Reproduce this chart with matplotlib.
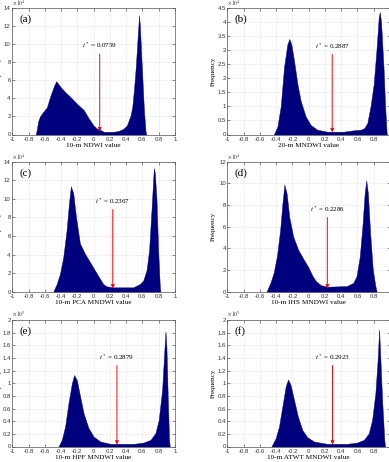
import matplotlib
matplotlib.use("Agg")
import matplotlib.pyplot as plt

plt.rcParams['mathtext.fontset'] = 'stix'

# histogram outlines (x = index value, y = frequency / scale)
x_a = [-0.711, -0.70, -0.68, -0.66, -0.62, -0.575, -0.534, -0.49, -0.46, -0.41, -0.35, -0.29, -0.204,
       -0.12, -0.06, 0.0, 0.04, 0.085, 0.126, 0.25, 0.31, 0.37, 0.41, 0.455, 0.476, 0.497, 0.52,
       0.54, 0.56, 0.571, 0.588, 0.60, 0.62, 0.64, 0.65]
y_a = [0, 0.5, 1.5, 2.0, 2.5, 3.0, 4.2, 5.3, 5.9, 5.3, 4.7, 4.2, 3.4,
       2.7, 1.8, 1.0, 0.65, 0.5, 0.3, 0.3, 0.4, 0.65, 1.0, 2.1, 3.0, 4.9, 7.5,
       10.4, 13.2, 11.9, 8.6, 6.4, 2.7, 0.3, 0]

x_b = [-0.43, -0.386, -0.345, -0.304, -0.264, -0.239, -0.214, -0.18, -0.14, -0.10, -0.038, 0.023,
       0.105, 0.228, 0.43, 0.555, 0.64, 0.68, 0.72, 0.76, 0.80, 0.833, 0.862, 0.874, 0.89, 0.92,
       0.94, 0.96]
y_b = [0, 0.28, 1.0, 2.4, 3.2, 3.4, 3.2, 2.6, 1.8, 1.2, 0.64, 0.34,
       0.17, 0.1, 0.1, 0.15, 0.17, 0.22, 0.4, 1.0, 1.8, 3.0, 4.2, 4.35, 4.0, 2.4,
       1.0, 0]

x_c = [-0.496, -0.455, -0.414, -0.373, -0.332, -0.303, -0.279, -0.25, -0.217, -0.168, -0.107,
       -0.045, 0.016, 0.078, 0.119, 0.16, 0.242, 0.488, 0.57, 0.611, 0.652, 0.684, 0.713, 0.742,
       0.754, 0.775, 0.795, 0.816, 0.824]
y_c = [0, 0.8, 1.9, 3.7, 6.6, 9.5, 11.35, 10.6, 8.1, 5.2, 4.1,
       3.2, 2.3, 1.4, 0.83, 0.58, 0.47, 0.47, 0.83, 1.2, 2.3, 4.5, 8.8, 13.3,
       12.8, 9.9, 4.5, 0.47, 0]

x_d = [-0.52, -0.472, -0.432, -0.392, -0.352, -0.324, -0.30, -0.272, -0.24, -0.192, -0.132,
       -0.072, -0.012, 0.048, 0.088, 0.148, 0.228, 0.468, 0.548, 0.588, 0.628, 0.66, 0.688,
       0.708, 0.728, 0.756, 0.788, 0.82, 0.836]
y_d = [0, 0.82, 1.74, 3.26, 5.7, 8.14, 9.88, 9.05, 6.9, 5.1, 3.9,
       3.1, 2.35, 1.43, 0.98, 0.61, 0.46, 0.52, 0.82, 1.43, 3.26, 6.0, 9.05,
       10.27, 9.05, 5.4, 2.04, 0.52, 0]

x_e = [-0.432, -0.391, -0.35, -0.309, -0.267, -0.239, -0.206, -0.165, -0.123, -0.062, 0.0,
       0.082, 0.206, 0.494, 0.617, 0.70, 0.761, 0.802, 0.844, 0.872, 0.885, 0.897, 0.914,
       0.93, 0.938]
y_e = [0, 0.105, 0.316, 0.684, 1.0, 1.13, 1.05, 0.79, 0.526, 0.29, 0.158,
       0.079, 0.042, 0.042, 0.063, 0.105, 0.21, 0.42, 0.895, 1.53, 1.82, 1.58, 0.74,
       0.1, 0]

x_f = [-0.46, -0.407, -0.366, -0.325, -0.284, -0.255, -0.223, -0.182, -0.133, -0.079, -0.018,
       0.064, 0.227, 0.473, 0.596, 0.678, 0.739, 0.78, 0.82, 0.85, 0.866, 0.882, 0.903,
       0.93, 0.94]
y_f = [0, 0.13, 0.316, 0.63, 0.95, 1.06, 0.97, 0.74, 0.47, 0.26, 0.147,
       0.079, 0.042, 0.042, 0.063, 0.105, 0.21, 0.42, 0.84, 1.42, 1.85, 1.37, 0.74,
       0.1, 0]

labels = ['(a)', '(b)', '(c)', '(d)', '(e)', '(f)']
xlabels = ['10-m NDWI value', '20-m MNDWI value', '10-m PCA MNDWI value',
           '10-m IHS MNDWI value', '10-m HPF MNDWI value', '10-m ATWT MNDWI value']
thresholds = [0.0759, 0.2887, 0.2367, 0.2286, 0.2879, 0.2923]
exponents = [4, 4, 4, 4, 5, 5]
ymaxes = [14, 4.5, 14, 12, 2, 2]
ysteps = [2, 0.5, 2, 2, 0.2, 0.2]
text_y = [9.3, 2.96, 9.25, 7.2, 1.34, 1.34]
arrow_top = [8.9, 2.85, 8.85, 6.85, 1.28, 1.28]
arrow_bot = [0.35, 0.08, 0.35, 0.3, 0.03, 0.03]
xs = [x_a, x_b, x_c, x_d, x_e, x_f]
ys = [y_a, y_b, y_c, y_d, y_e, y_f]

W, H = 389, 462
fig = plt.figure(figsize=(W / 100, H / 100), dpi=100)

# axes boxes in pixels: left, top, width, height
lefts = [12.3, 227.5]
ylabel_x = [-0.062, -0.07]
rows = [(8.0, 126.5), (161.7, 130), (320, 126.5)]

navy = '#00007f'
serif = 'Liberation Serif'
sans = 'Liberation Sans'
xtl = ['-1', '-0.8', '-0.6', '-0.4', '-0.2', '0', '0.2', '0.4', '0.6', '0.8', '1']

for i in range(6):
    r, c = divmod(i, 2)
    top, h = rows[r]
    left = lefts[c]
    ax = fig.add_axes([left / W, 1 - (top + h) / H, 162.5 / W, h / H])
    ax.fill_between(xs[i], ys[i], 0, color=navy, linewidth=0.3, edgecolor=navy)
    ax.set_xlim(-1, 1)
    ax.set_ylim(0, ymaxes[i])
    ax.set_xticks([round(-1 + 0.2 * k, 1) for k in range(11)])
    # the right column runs past the picture edge, so its "1" is not seen
    ax.set_xticklabels(xtl if c == 0 else xtl[:-1] + [''], family=sans)
    nt = int(round(ymaxes[i] / ysteps[i]))
    yt = [round(ysteps[i] * k, 2) for k in range(nt + 1)]
    ax.set_yticks(yt)
    ax.set_yticklabels(['%g' % v for v in yt], family=sans)
    ax.tick_params(direction='in', length=2, width=0.4, labelsize=4.3, pad=1.2,
                   top=True, right=True, colors='#333333')
    ax.tick_params(axis='x', pad=1.8)
    ax.grid(True, color='#d0d0d0', linestyle=':', linewidth=0.5)
    ax.set_axisbelow(True)
    for s in ax.spines.values():
        s.set_linewidth(0.5)
        s.set_color('#555555')
    ax.set_xlabel(xlabels[i], fontsize=5.2, family=serif, labelpad=0.8)
    ax.set_ylabel('Frequency', fontsize=5, family=serif)
    ax.yaxis.set_label_coords(ylabel_x[c], 0.5)
    ax.text(0.0, 1.004, r'$\times\,10^{%d}$' % exponents[i], transform=ax.transAxes,
            fontsize=4, ha='left', va='bottom', color='#333333')
    ax.text(0.045, 0.915, labels[i], transform=ax.transAxes, fontsize=8, family=serif,
            ha='left', va='center')
    t = thresholds[i]
    ax.text(t, text_y[i], r'$t^*$ = %.4f' % t, fontsize=5, family=serif,
            ha='center', va='bottom')
    ax.annotate('', xy=(t, arrow_bot[i]), xytext=(t, arrow_top[i]),
                arrowprops=dict(arrowstyle='-|>', color='red', lw=0.7,
                                mutation_scale=5, shrinkA=0, shrinkB=0))

fig.savefig('out.png', dpi=100)
